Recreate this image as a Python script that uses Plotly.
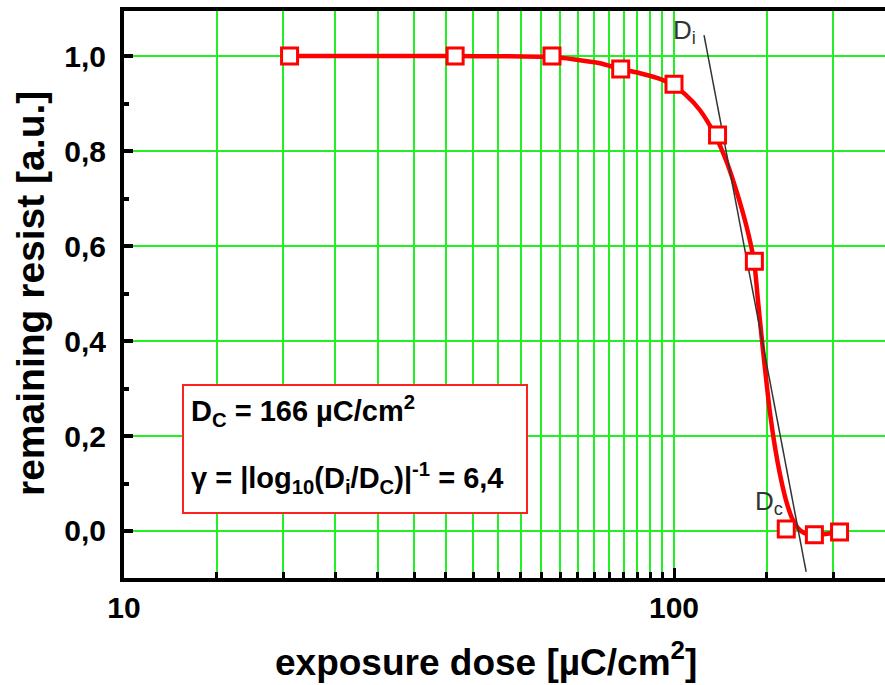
import plotly.graph_objects as go

# ---- data ----
dose = [20, 40, 60, 80, 100, 120, 140, 160, 180, 200]
remaining = [1.0, 1.0, 1.0, 0.973, 0.941, 0.834, 0.568, 0.004, -0.008, -0.002]

fit_dose = [20, 40, 60, 66, 73.4, 79.8, 86.7, 94.3, 99.5, 104.7, 111.5, 118.7, 124.9, 130.2, 135.7,
            139.8, 142.1, 144.5, 147.0, 149.5, 152.6, 155.8, 159.8, 163.9, 168.1, 172.4, 180, 200]
fit_remaining = [1.0, 1.0, 0.998, 0.993, 0.985, 0.973, 0.964, 0.952, 0.939, 0.920, 0.886, 0.834, 0.775, 0.712, 0.638,
                 0.568, 0.486, 0.402, 0.322, 0.248, 0.177, 0.120, 0.065, 0.027, 0.006, -0.004, -0.008, -0.002]

tangent_dose = [113.4, 173.9]
tangent_remaining = [1.044, -0.086]

y_tick_vals = [0.0, 0.2, 0.4, 0.6, 0.8, 1.0]
y_tick_text = ["0,0", "0,2", "0,4", "0,6", "0,8", "1,0"]
x_tick_vals = [10, 100]
x_tick_text = ["10", "100"]

# minor grid: each decade split into 19 equal linear steps
minor_steps = 19
x_minor = [10 + k * 90 / minor_steps for k in range(1, minor_steps)] + \
          [100 + k * 900 / minor_steps for k in range(1, 4)]

FONT = "Liberation Sans"
GREEN = "#22f022"

fig = go.Figure()
fig.add_trace(go.Scatter(x=fit_dose, y=fit_remaining, mode="lines",
                         line=dict(color="#ff0000", width=4.5, shape="spline", smoothing=0.8),
                         hoverinfo="skip", showlegend=False))
fig.add_trace(go.Scatter(x=tangent_dose, y=tangent_remaining, mode="lines",
                         line=dict(color="#333333", width=1.5),
                         hoverinfo="skip", showlegend=False))
fig.add_trace(go.Scatter(x=dose, y=remaining, mode="markers",
                         marker=dict(symbol="square", size=16, color="white",
                                     line=dict(color="#ff0000", width=3)),
                         showlegend=False))

W, H = 885, 685
L, R, T, B = 124, 0, 11, 107
pw, ph = W - L - R, H - T - B


def px(x):
    return (x - L) / pw


def py(y):
    return (H - B - y) / ph


fig.update_layout(
    width=W, height=H,
    margin=dict(l=L, r=R, t=T, b=B),
    paper_bgcolor="white", plot_bgcolor="white",
    font=dict(family=FONT, color="black"),
    xaxis=dict(
        type="log", range=[1, 1 + (W - L) / 550],
        tickmode="array", tickvals=x_tick_vals, ticktext=x_tick_text,
        ticks="inside", ticklen=10, tickwidth=3, tickcolor="black",
        showline=True, linewidth=4, linecolor="black", mirror=True,
        showgrid=True, gridcolor=GREEN, gridwidth=2,
        minor=dict(tickmode="array", tickvals=x_minor, ticks="inside", ticklen=6,
                   tickwidth=3, tickcolor="black", showgrid=True, gridcolor=GREEN, gridwidth=2),
        tickfont=dict(size=30, family=FONT, color="black", weight="bold"),
        zeroline=False, fixedrange=True,
    ),
    yaxis=dict(
        range=[-0.099, 1.095],
        tickmode="array", tickvals=y_tick_vals, ticktext=y_tick_text,
        ticks="inside", ticklen=9, tickwidth=4, tickcolor="black",
        showline=True, linewidth=4, linecolor="black",
        showgrid=True, gridcolor=GREEN, gridwidth=2,
        minor=dict(tickmode="linear", tick0=0.1, dtick=0.2, ticks="inside", ticklen=5,
                   tickwidth=4, tickcolor="black", showgrid=False),
        tickfont=dict(size=30, family=FONT, color="black", weight="bold"),
        ticklabelstandoff=8,
        zeroline=False, fixedrange=True,
    ),
)

# axis titles
fig.add_annotation(xref="paper", yref="paper", x=px(486), y=py(660), xanchor="center", yanchor="middle",
                   text="<b>exposure dose [µC/cm<sup>2</sup>]</b>", showarrow=False,
                   font=dict(size=37, family=FONT, color="black"))
fig.add_annotation(xref="paper", yref="paper", x=px(30), y=py(294), xanchor="center", yanchor="middle",
                   text="<b>remaining resist [a.u.]</b>", showarrow=False, textangle=-90,
                   font=dict(size=39, family=FONT, color="black"))

# info box
fig.add_shape(type="rect", xref="paper", yref="paper",
              x0=px(183), x1=px(527), y0=py(513), y1=py(385),
              line=dict(color="#ff2020", width=2), fillcolor="white", layer="above")
fig.add_annotation(xref="paper", yref="paper", x=px(189), y=py(411), xanchor="left", yanchor="middle",
                   text="<b>D<sub>C</sub> = 166 µC/cm<sup>2</sup></b>", showarrow=False,
                   font=dict(size=29, family=FONT, color="black"))
fig.add_annotation(xref="paper", yref="paper", x=px(189), y=py(478), xanchor="left", yanchor="middle",
                   text="<b>γ = |log<sub>10</sub>(D<sub>i</sub>/D<sub>C</sub>)|<sup>-1</sup> = 6,4</b>", showarrow=False,
                   font=dict(size=29, family=FONT, color="black"))

# tangent labels
fig.add_annotation(xref="paper", yref="paper", x=px(671), y=py(31), xanchor="left", yanchor="middle",
                   text="D<sub>i</sub>", showarrow=False,
                   font=dict(size=26, family=FONT, color="#333333"))
fig.add_annotation(xref="paper", yref="paper", x=px(753), y=py(502), xanchor="left", yanchor="middle",
                   text="D<sub>c</sub>", showarrow=False,
                   font=dict(size=26, family=FONT, color="#333333"))

fig.write_html("out.html", config={"displayModeBar": False},
               post_script="document.body.style.margin='0px';")
